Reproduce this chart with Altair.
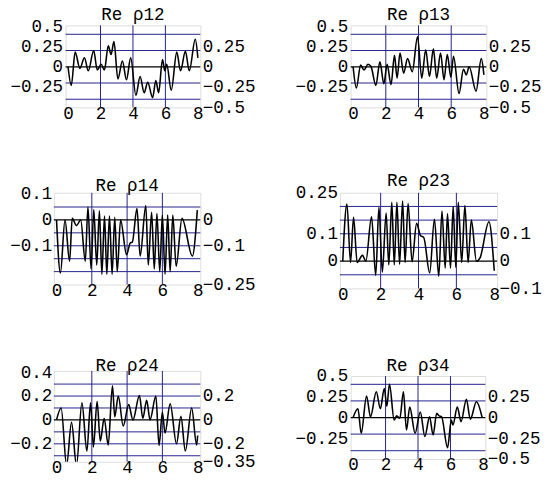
import altair as alt
import pandas as pd

FONT = "Liberation Mono"
FS = 18
NAVY = "#20208c"

# ---- data (extrema of each curve) ----
x12 = [0.0, 0.2, 0.44, 0.73, 1.01, 1.25, 1.58, 1.8, 2.04, 2.24, 2.48, 2.65, 2.83, 3.07, 3.35, 3.6, 3.86,
       4.18, 4.44, 4.69, 4.91, 5.21, 5.41, 5.58, 5.82, 5.96, 6.08, 6.36, 6.7, 6.93, 7.23, 7.47, 7.84, 8.0]
y12 = [0.0, -0.23, 0.18, -0.02, 0.11, -0.05, 0.2, -0.04, 0.03, -0.04, 0.26, 0.15, 0.31, -0.15, 0.07, -0.16, 0.11,
       -0.35, -0.12, -0.32, -0.19, -0.38, -0.17, -0.32, 0.09, -0.05, 0.03, -0.29, 0.18, -0.05, 0.19, -0.05, 0.34, 0.11]

x13 = [0.0, 0.2, 0.46, 0.67, 0.91, 1.1, 1.39, 1.64, 1.88, 2.08, 2.32, 2.53, 2.69, 2.87, 3.09, 3.33, 3.62, 3.94,
       4.2, 4.44, 4.67, 4.91, 5.11, 5.35, 5.56, 5.76, 5.98, 6.14, 6.48, 6.75, 6.92, 7.1, 7.52, 7.84, 8.0]
y13 = [0.0, -0.26, 0.02, -0.04, 0.03, 0.0, -0.23, 0.06, -0.21, 0.03, -0.22, 0.14, -0.14, 0.17, -0.08, 0.1, -0.06, 0.37,
       -0.14, 0.21, -0.12, 0.22, -0.14, 0.17, -0.16, 0.15, -0.13, 0.13, -0.33, -0.03, -0.1, 0.0, -0.3, 0.1, -0.1]

x14 = [0.0, 0.22, 0.48, 0.74, 0.89, 1.13, 1.37, 1.63, 1.78, 1.96, 2.11, 2.28, 2.43, 2.57, 2.72, 2.85, 3.0, 3.15, 3.3,
       3.44, 3.63, 3.97, 4.17, 4.3, 4.56, 4.74, 5.06, 5.2, 5.39, 5.54, 5.69, 5.85, 6.0, 6.15, 6.3, 6.44, 6.59, 6.78,
       7.11, 7.7, 7.98]
y14 = [0.0, -0.205, 0.0, -0.16, 0.006, -0.022, 0.0, -0.16, 0.05, -0.19, 0.04, -0.175, 0.035, -0.21, 0.015, -0.21,
       0.015, -0.21, 0.01, -0.2, 0.0, -0.135, -0.09, -0.085, 0.044, -0.14, 0.056, -0.175, 0.03, -0.19, 0.025, -0.2,
       0.019, -0.21, 0.019, -0.2, 0.019, -0.18, 0.006, -0.14, 0.038]

x23 = [0.0, 0.22, 0.41, 0.57, 0.76, 1.04, 1.22, 1.52, 1.74, 1.91, 2.09, 2.29, 2.43, 2.59, 2.72, 2.86, 3.0, 3.16, 3.29,
       3.45, 3.66, 3.9, 4.1, 4.28, 4.59, 4.84, 5.07, 5.24, 5.41, 5.53, 5.69, 5.83, 5.97, 6.1, 6.28, 6.45, 6.62, 6.79,
       7.06, 7.25, 7.72, 8.0]
y23 = [0.0, 0.209, -0.005, 0.16, -0.005, 0.021, 0.0, 0.162, -0.052, 0.197, -0.04, 0.176, -0.014, 0.215, -0.014, 0.215,
       -0.012, 0.22, -0.005, 0.211, -0.002, 0.138, 0.094, 0.086, -0.043, 0.153, -0.055, 0.183, -0.026, 0.174, -0.026,
       0.2, -0.023, 0.215, -0.005, 0.203, -0.005, 0.15, 0.0, 0.012, 0.144, -0.035]

x24 = [0.0, 0.26, 0.57, 0.85, 1.13, 1.44, 1.72, 1.93, 2.09, 2.3, 2.48, 2.7, 2.93, 3.17, 3.3, 3.5, 3.78, 4.09, 4.33,
       4.7, 4.89, 5.11, 5.3, 5.63, 5.81, 6.0, 6.15, 6.44, 6.8, 7.05, 7.3, 7.66, 7.94, 8.0]
y24 = [0.0, 0.1, -0.38, -0.02, -0.38, 0.144, -0.26, 0.144, -0.226, 0.155, -0.177, 0.014, -0.21, 0.286, 0.027, 0.2,
       -0.05, 0.128, 0.0, 0.204, 0.014, 0.164, 0.0, 0.2, -0.213, 0.063, -0.11, 0.136, -0.2, 0.03, -0.26, 0.1, -0.21,
       -0.13]

x34 = [0.0, 0.3, 0.5, 0.83, 1.07, 1.43, 1.68, 1.92, 2.08, 2.24, 2.53, 2.68, 2.88, 3.1, 3.29, 3.49, 3.82, 4.14, 4.42,
       4.71, 4.93, 5.15, 5.3, 5.45, 5.82, 6.05, 6.15, 6.42, 6.65, 6.98, 7.22, 7.6, 7.95]
y34 = [0.0, 0.106, -0.19, 0.26, 0.008, 0.31, 0.106, 0.35, 0.137, 0.4, -0.03, 0.02, -0.01, 0.31, -0.15, 0.125, -0.19,
       0.067, -0.23, 0.008, -0.21, 0.05, 0.02, 0.01, -0.365, -0.03, -0.09, 0.125, -0.05, 0.22, -0.02, 0.19, 0.0]

x_ticks = [0, 2, 4, 6, 8]
x_grid = [2, 4, 6]

grid_half = [0.4, 0.2, -0.2, -0.4]
grid14 = [0.05, -0.05, -0.1, -0.15, -0.2]
grid23 = [0.2, 0.15, 0.1, 0.05, -0.05]
grid24 = [0.3, 0.2, 0.1, -0.1, -0.2, -0.3]

left_half = [0.5, 0.25, 0, -0.25]
right_half = [0.25, 0, -0.25, -0.5]
left14, right14 = [0.1, 0, -0.1], [0, -0.1, -0.25]
left23, right23 = [0.25, 0.1, 0], [0.1, 0, -0.1]
left24, right24 = [0.4, 0.2, 0, -0.2], [0.2, 0, -0.2, -0.35]

XDOM = [-0.15, 8.15]


def axis(**kw):
    base = dict(title=None, labelFont=FONT, labelFontSize=FS, labelColor="black", ticks=False,
                domain=False, grid=False, labelFlush=False, labelOverlap=False, format=".3~f")
    base.update(kw)
    return alt.Axis(**base)


def spacer():
    # an empty 1x1 view that anchors the left edge of each panel's labels
    return alt.Chart(pd.DataFrame({"s": [0]})).mark_rule(strokeWidth=0, opacity=0).encode(
        x=alt.value(0), x2=alt.value(0), y=alt.value(0), y2=alt.value(0)
    ).properties(width=1, height=1, view=alt.ViewBackground(stroke="transparent", strokeWidth=0))


def panel(name, xs, ys, ydom, w, h, hgrid, lvals, rvals, lpad, rpad, toff):
    df = pd.DataFrame({"t": xs, "v": ys})
    xsc = alt.Scale(domain=XDOM, nice=False, zero=False)
    ysc = alt.Scale(domain=ydom, nice=False, zero=False)
    hg = alt.Chart(pd.DataFrame({"g": hgrid})).mark_rule(color=NAVY, strokeWidth=1).encode(
        y=alt.Y("g:Q", scale=ysc, axis=None))
    vg = alt.Chart(pd.DataFrame({"g": x_grid})).mark_rule(color=NAVY, strokeWidth=1).encode(
        x=alt.X("g:Q", scale=xsc, axis=None))
    zero = alt.Chart(pd.DataFrame({"g": [0]})).mark_rule(color="black", strokeWidth=1.3).encode(
        y=alt.Y("g:Q", scale=ysc, axis=None))
    line = alt.Chart(df).mark_line(color="black", strokeWidth=1.6, interpolate="monotone", clip=True).encode(
        x=alt.X("t:Q", scale=xsc, axis=axis(orient="bottom", values=x_ticks, labelPadding=-3, format="d")),
        y=alt.Y("v:Q", scale=ysc, axis=axis(orient="left", values=lvals, labelPadding=lpad)))
    right = alt.Chart(df).mark_line(opacity=0).encode(
        x=alt.X("t:Q", scale=xsc, axis=None),
        y=alt.Y("v:Q", scale=ysc, axis=axis(orient="right", values=rvals, labelPadding=rpad)))
    layered = alt.layer(hg, vg, zero, line, right).resolve_axis(x="independent", y="independent").properties(
        width=w, height=h,
        title=alt.TitleParams(text=name, font=FONT, fontSize=FS, fontWeight="normal", color="black",
                              anchor="middle", offset=toff))
    return alt.hconcat(spacer(), layered, spacing=0)


p12 = panel("Re ρ12", x12, y12, [-0.5, 0.51], 138, 84, grid_half, left_half, right_half, 3, 2, -6.5)
p13 = panel("Re ρ13", x13, y13, [-0.5, 0.51], 139, 84, grid_half, left_half, right_half, 3, 2, -6.5)
p14 = panel("Re ρ14", x14, y14, [-0.25, 0.105], 150, 94, grid14, left14, right14, 2, 2, -10.2)
p23 = panel("Re ρ23", x23, y23, [-0.1, 0.25], 161, 98, grid23, left23, right23, 2.5, 2, -5.9)
p24 = panel("Re ρ24", x24, y24, [-0.35, 0.41], 150, 93, grid24, left24, right24, 2, 2, -11.5)
p34 = panel("Re ρ34", x34, y34, [-0.5, 0.5], 138, 85, grid_half, left_half, right_half, 3, 2, -8.1)

left_low = alt.concat(p14, p24, columns=1, align="none", spacing=57.5)
left_col = alt.concat(p12, left_low, columns=1, align="none", spacing=55.5)
right_low = alt.concat(p23, p34, columns=1, align="none", spacing=53.7)
right_col = alt.concat(p13, right_low, columns=1, align="none", spacing=49.5)

chart = alt.hconcat(left_col, right_col, spacing=38).properties(
    padding={"left": 0, "top": -9, "right": 0, "bottom": 0}
).configure_view(stroke="black", strokeWidth=1).configure(background="white")

chart.save("out.html", embed_options={"renderer": "svg", "actions": False})
